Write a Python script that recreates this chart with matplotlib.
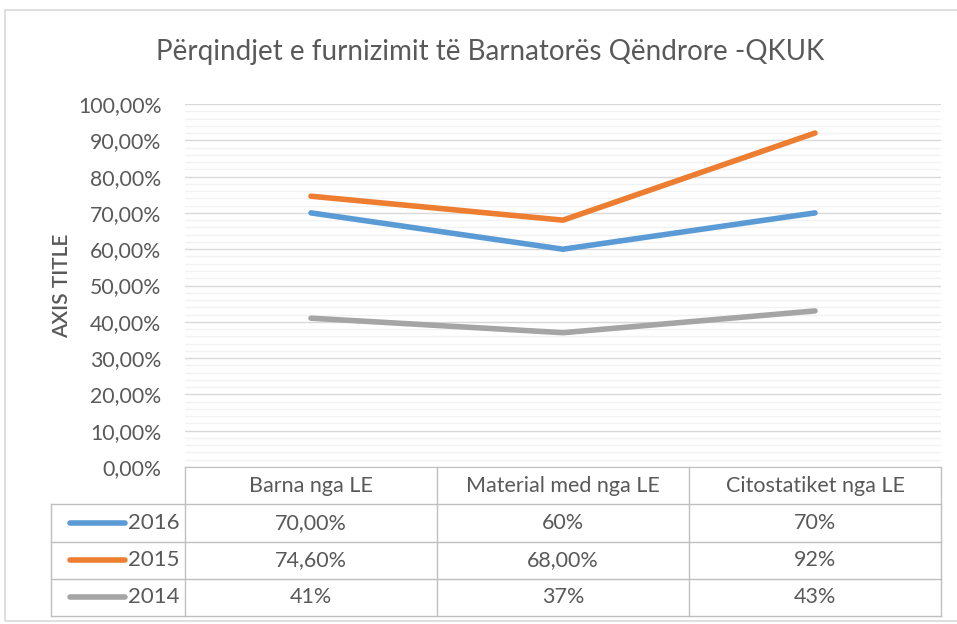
import numpy as np
import matplotlib.pyplot as plt
from matplotlib.patches import Rectangle
from matplotlib.ticker import MultipleLocator, FuncFormatter

# data
categories = ['Barna nga LE', 'Material med nga LE', 'Citostatiket nga LE']
years = ['2016', '2015', '2014']
v2016 = [70.0, 60.0, 70.0]
v2015 = [74.6, 68.0, 92.0]
v2014 = [41.0, 37.0, 43.0]
# labels exactly as they appear in the data table
t2016 = ['70,00%', '60%', '70%']
t2015 = ['74,60%', '68,00%', '92%']
t2014 = ['41%', '37%', '43%']

colors = ['#5B9BD5', '#ED7D31', '#A5A5A5']
txt = '#595959'
plt.rcParams['font.family'] = ['Lato', 'DejaVu Sans']

W, H = 957, 624
fig = plt.figure(figsize=(W/100, H/100), dpi=100)

def box(x0, y0, x1, y1):
    # pixel box (top-left origin) -> figure fraction rect
    return [x0/W, 1 - y1/H, (x1-x0)/W, (y1-y0)/H]

# chart border
fig.patches.append(Rectangle((5/W, 1-621/H), 960/W, 611/H, transform=fig.transFigure,
                             fill=False, edgecolor='#D9D9D9', lw=1.2))

ax = fig.add_axes(box(185, 104, 941, 467))
x = np.arange(len(categories))
for vals, c in zip([v2016, v2015, v2014], colors):
    ax.plot(x, vals, color=c, lw=4.0, solid_capstyle='round', zorder=3)

ax.set_xlim(-0.5, len(categories)-0.5)
ax.set_ylim(0, 100)
ax.yaxis.set_major_locator(MultipleLocator(10))
ax.yaxis.set_minor_locator(MultipleLocator(2))
ax.yaxis.set_major_formatter(FuncFormatter(lambda v, p: f'{v:.2f}%'.replace('.', ',')))
ax.grid(which='minor', axis='y', color='#F2F2F2', lw=1)
ax.grid(which='major', axis='y', color='#D9D9D9', lw=1)
ax.set_axisbelow(True)
ax.tick_params(axis='y', which='both', length=0, pad=17, labelsize=15.3, labelcolor=txt)
ax.tick_params(axis='y', which='minor', labelleft=False)
ax.set_xticks([])
for s in ['top', 'right', 'left']:
    ax.spines[s].set_visible(False)
ax.spines['bottom'].set_color('#BFBFBF')
ax.set_ylabel('AXIS TITLE', fontsize=15, color=txt, labelpad=4, fontweight='semibold')

fig.text(490/W, 1-52/H, 'Përqindjet e furnizimit të Barnatorës Qëndrore -QKUK',
         ha='center', va='center', fontsize=20, color=txt)

# data table below the plot
tb = fig.add_axes(box(51, 467, 941, 616))
tb.set_xlim(-134/252 - 0.5, len(categories) - 0.5)
tb.set_ylim(4, 0)
tb.axis('off')
lc = '#BFBFBF'
xl = -134/252 - 0.5
for i in range(len(categories) + 1):
    tb.plot([i-0.5, i-0.5], [0, 4], color=lc, lw=1, clip_on=False)
tb.plot([xl, xl], [1, 4], color=lc, lw=1, clip_on=False)
for r in range(1, 5):
    tb.plot([xl, len(categories)-0.5], [r, r], color=lc, lw=1, clip_on=False)
for i, c in enumerate(categories):
    tb.text(i, 0.5, c, ha='center', va='center', fontsize=15.5, color=txt)
for r, (yr, labs, c) in enumerate(zip(years, [t2016, t2015, t2014], colors)):
    yy = r + 1.5
    tb.plot([xl + 19/252, xl + 74/252], [yy, yy], color=c, lw=4.0,
            solid_capstyle='round', clip_on=False)
    tb.text(xl + 77/252, yy, yr, ha='left', va='center', fontsize=16, color=txt)
    for i, s in enumerate(labs):
        tb.text(i, yy, s, ha='center', va='center', fontsize=15.5, color=txt)

fig.savefig('out.png', dpi=100)
